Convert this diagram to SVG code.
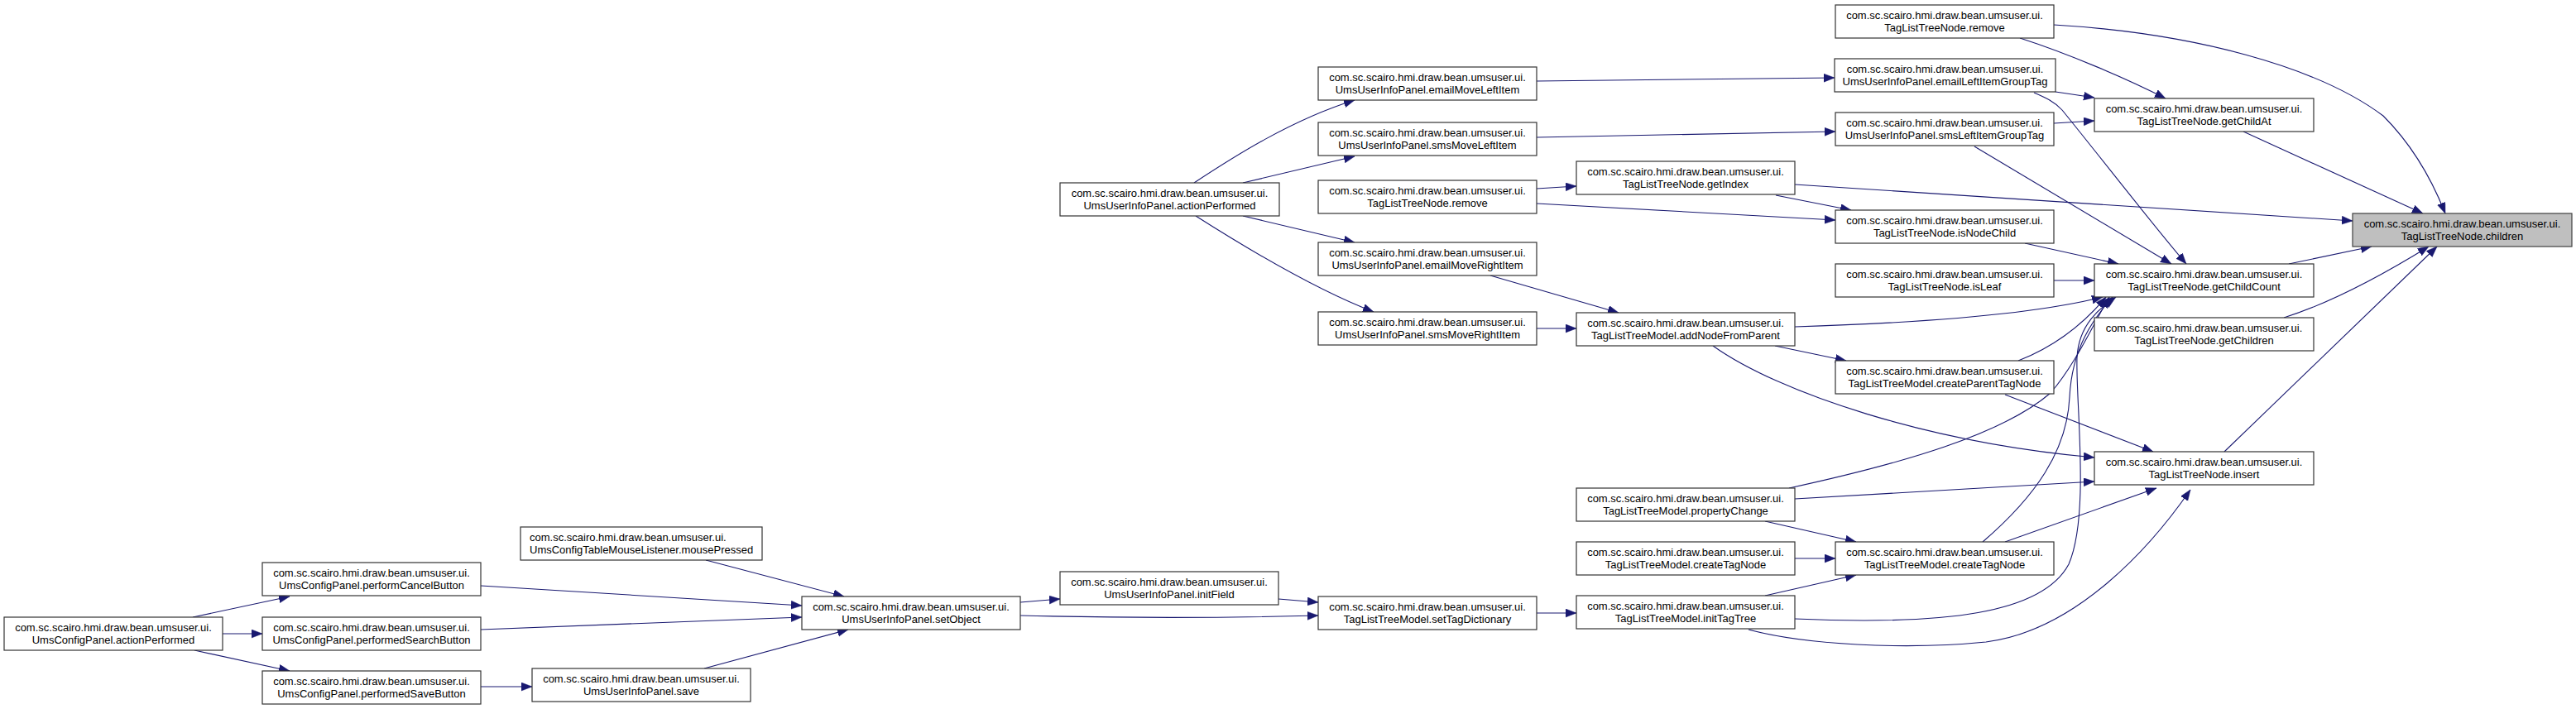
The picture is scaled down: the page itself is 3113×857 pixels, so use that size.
<svg xmlns="http://www.w3.org/2000/svg" width="3113" height="857" viewBox="0 0 3113 857">
<style>
.node rect{fill:#ffffff;stroke:#333333;stroke-width:1.2}
.node.root rect{fill:#bfbfbf;stroke:#404040}
.node text{font-family:"Liberation Sans",Arial,sans-serif;font-size:13px;fill:#000000;text-anchor:middle}
.node text.l{text-anchor:start}
.edges path{fill:none;stroke:#191970;stroke-width:1.1;marker-end:url(#arr)}
</style>
<defs>
<marker id="arr" markerUnits="userSpaceOnUse" markerWidth="14" markerHeight="11" refX="13" refY="5" orient="auto" viewBox="0 0 14 11">
<path d="M0,0 L13,5 L0,10 Z" fill="#191970" stroke="#191970" stroke-width="0.5"/>
</marker>
</defs>
<rect width="3113" height="857" fill="#ffffff"/>
<g class="edges" id="edges">
<path d="M233,746 L350,721"/>
<path d="M269,766 L317,766"/>
<path d="M235,786 L350,811"/>
<path d="M581,708 L969,732"/>
<path d="M581,761 L969,746"/>
<path d="M581,830 L643,830"/>
<path d="M853,677 L1020,721"/>
<path d="M851,808 L1025,761"/>
<path d="M1233,728 L1281,724"/>
<path d="M1233,744 C1350,747 1480,747 1593,744"/>
<path d="M1545,724 L1593,728"/>
<path d="M1857,741 L1905,741"/>
<path d="M1443,221 C1490,190 1560,145 1637,121"/>
<path d="M1502,221 L1637,189"/>
<path d="M1502,261 L1637,293"/>
<path d="M1445,261 C1500,296 1590,350 1660,377"/>
<path d="M1857,98 L2217,94"/>
<path d="M1857,166 L2218,159"/>
<path d="M1857,228 L1905,225"/>
<path d="M1857,246 L2218,266"/>
<path d="M1801,333 L1956,378"/>
<path d="M1857,397 L1905,397"/>
<path d="M2169,223 L2843,267"/>
<path d="M2146,236 L2237,254"/>
<path d="M2169,395 C2300,391 2450,382 2541,359"/>
<path d="M2145,418 L2231,436"/>
<path d="M2070,418 C2150,475 2330,535 2531,553"/>
<path d="M2439,436 C2480,420 2515,395 2545,359"/>
<path d="M2423,477 L2602,546"/>
<path d="M2162,590 C2300,560 2420,525 2478,475 C2508,440 2528,395 2549,359"/>
<path d="M2169,603 L2531,582"/>
<path d="M2133,630 L2243,655"/>
<path d="M2169,675 L2218,675"/>
<path d="M2133,720 L2243,695"/>
<path d="M2396,655 C2460,600 2498,545 2501,480 C2504,420 2530,385 2553,359"/>
<path d="M2423,655 L2606,590"/>
<path d="M2169,748 C2350,756 2468,742 2500,682 C2526,622 2508,485 2510,432 C2512,392 2538,372 2557,359"/>
<path d="M2113,761 C2180,779 2300,786 2400,776 C2510,762 2600,660 2647,592"/>
<path d="M2482,30 C2650,40 2800,80 2880,140 C2918,178 2940,220 2955,258"/>
<path d="M2441,46 C2500,65 2570,95 2617,119"/>
<path d="M2484,111 L2531,118"/>
<path d="M2458,112 C2472,118 2483,123 2492,133 C2540,192 2600,270 2642,319"/>
<path d="M2482,149 L2531,146"/>
<path d="M2386,177 L2624,319"/>
<path d="M2447,294 L2560,319"/>
<path d="M2482,339 L2531,339"/>
<path d="M2711,159 L2928,258"/>
<path d="M2766,319 L2866,298"/>
<path d="M2760,384 C2820,365 2880,332 2935,298"/>
<path d="M2688,546 L2945,298"/>
</g>
<g id="n_ucpActionPerformed" class="node"><rect x="5" y="746" width="264" height="40"/><text x="137" y="763">com.sc.scairo.hmi.draw.bean.umsuser.ui.</text><text x="137" y="777.5">UmsConfigPanel.actionPerformed</text></g>
<g id="n_performCancelButton" class="node"><rect x="317" y="680" width="264" height="40"/><text x="449" y="697">com.sc.scairo.hmi.draw.bean.umsuser.ui.</text><text x="449" y="711.5">UmsConfigPanel.performCancelButton</text></g>
<g id="n_performedSearchButton" class="node"><rect x="317" y="746" width="264" height="40"/><text x="449" y="763">com.sc.scairo.hmi.draw.bean.umsuser.ui.</text><text x="449" y="777.5">UmsConfigPanel.performedSearchButton</text></g>
<g id="n_performedSaveButton" class="node"><rect x="317" y="811" width="264" height="40"/><text x="449" y="828">com.sc.scairo.hmi.draw.bean.umsuser.ui.</text><text x="449" y="842.5">UmsConfigPanel.performedSaveButton</text></g>
<g id="n_mousePressed" class="node"><rect x="629" y="637" width="292" height="40"/><text class="l" x="640" y="654">com.sc.scairo.hmi.draw.bean.umsuser.ui.</text><text class="l" x="640" y="668.5">UmsConfigTableMouseListener.mousePressed</text></g>
<g id="n_save" class="node"><rect x="643" y="808" width="264" height="40"/><text x="775" y="825">com.sc.scairo.hmi.draw.bean.umsuser.ui.</text><text x="775" y="839.5">UmsUserInfoPanel.save</text></g>
<g id="n_setObject" class="node"><rect x="969" y="721" width="264" height="40"/><text x="1101" y="738">com.sc.scairo.hmi.draw.bean.umsuser.ui.</text><text x="1101" y="752.5">UmsUserInfoPanel.setObject</text></g>
<g id="n_uipActionPerformed" class="node"><rect x="1281" y="221" width="265" height="40"/><text x="1413.5" y="238">com.sc.scairo.hmi.draw.bean.umsuser.ui.</text><text x="1413.5" y="252.5">UmsUserInfoPanel.actionPerformed</text></g>
<g id="n_initField" class="node"><rect x="1281" y="691" width="264" height="40"/><text x="1413" y="708">com.sc.scairo.hmi.draw.bean.umsuser.ui.</text><text x="1413" y="722.5">UmsUserInfoPanel.initField</text></g>
<g id="n_emailMoveLeftItem" class="node"><rect x="1593" y="81" width="264" height="40"/><text x="1725" y="98">com.sc.scairo.hmi.draw.bean.umsuser.ui.</text><text x="1725" y="112.5">UmsUserInfoPanel.emailMoveLeftItem</text></g>
<g id="n_smsMoveLeftItem" class="node"><rect x="1593" y="148" width="264" height="40"/><text x="1725" y="165">com.sc.scairo.hmi.draw.bean.umsuser.ui.</text><text x="1725" y="179.5">UmsUserInfoPanel.smsMoveLeftItem</text></g>
<g id="n_remove2" class="node"><rect x="1593" y="218" width="264" height="40"/><text x="1725" y="235">com.sc.scairo.hmi.draw.bean.umsuser.ui.</text><text x="1725" y="249.5">TagListTreeNode.remove</text></g>
<g id="n_emailMoveRightItem" class="node"><rect x="1593" y="293" width="264" height="40"/><text x="1725" y="310">com.sc.scairo.hmi.draw.bean.umsuser.ui.</text><text x="1725" y="324.5">UmsUserInfoPanel.emailMoveRightItem</text></g>
<g id="n_smsMoveRightItem" class="node"><rect x="1593" y="377" width="264" height="40"/><text x="1725" y="394">com.sc.scairo.hmi.draw.bean.umsuser.ui.</text><text x="1725" y="408.5">UmsUserInfoPanel.smsMoveRightItem</text></g>
<g id="n_setTagDictionary" class="node"><rect x="1593" y="721" width="264" height="40"/><text x="1725" y="738">com.sc.scairo.hmi.draw.bean.umsuser.ui.</text><text x="1725" y="752.5">TagListTreeModel.setTagDictionary</text></g>
<g id="n_getIndex" class="node"><rect x="1905" y="195" width="264" height="40"/><text x="2037" y="212">com.sc.scairo.hmi.draw.bean.umsuser.ui.</text><text x="2037" y="226.5">TagListTreeNode.getIndex</text></g>
<g id="n_addNodeFromParent" class="node"><rect x="1905" y="378" width="264" height="40"/><text x="2037" y="395">com.sc.scairo.hmi.draw.bean.umsuser.ui.</text><text x="2037" y="409.5">TagListTreeModel.addNodeFromParent</text></g>
<g id="n_propertyChange" class="node"><rect x="1905" y="590" width="264" height="40"/><text x="2037" y="607">com.sc.scairo.hmi.draw.bean.umsuser.ui.</text><text x="2037" y="621.5">TagListTreeModel.propertyChange</text></g>
<g id="n_createTagNodeL" class="node"><rect x="1905" y="655" width="264" height="40"/><text x="2037" y="672">com.sc.scairo.hmi.draw.bean.umsuser.ui.</text><text x="2037" y="686.5">TagListTreeModel.createTagNode</text></g>
<g id="n_initTagTree" class="node"><rect x="1905" y="720" width="264" height="40"/><text x="2037" y="737">com.sc.scairo.hmi.draw.bean.umsuser.ui.</text><text x="2037" y="751.5">TagListTreeModel.initTagTree</text></g>
<g id="n_removeTop" class="node"><rect x="2218" y="6" width="264" height="40"/><text x="2350" y="23">com.sc.scairo.hmi.draw.bean.umsuser.ui.</text><text x="2350" y="37.5">TagListTreeNode.remove</text></g>
<g id="n_emailLeftItemGroupTag" class="node"><rect x="2217" y="71" width="267" height="40"/><text x="2350.5" y="88">com.sc.scairo.hmi.draw.bean.umsuser.ui.</text><text x="2350.5" y="102.5">UmsUserInfoPanel.emailLeftItemGroupTag</text></g>
<g id="n_smsLeftItemGroupTag" class="node"><rect x="2218" y="136" width="264" height="40"/><text x="2350" y="153">com.sc.scairo.hmi.draw.bean.umsuser.ui.</text><text x="2350" y="167.5">UmsUserInfoPanel.smsLeftItemGroupTag</text></g>
<g id="n_isNodeChild" class="node"><rect x="2218" y="254" width="264" height="40"/><text x="2350" y="271">com.sc.scairo.hmi.draw.bean.umsuser.ui.</text><text x="2350" y="285.5">TagListTreeNode.isNodeChild</text></g>
<g id="n_isLeaf" class="node"><rect x="2218" y="319" width="264" height="40"/><text x="2350" y="336">com.sc.scairo.hmi.draw.bean.umsuser.ui.</text><text x="2350" y="350.5">TagListTreeNode.isLeaf</text></g>
<g id="n_createParentTagNode" class="node"><rect x="2218" y="436" width="264" height="40"/><text x="2350" y="453">com.sc.scairo.hmi.draw.bean.umsuser.ui.</text><text x="2350" y="467.5">TagListTreeModel.createParentTagNode</text></g>
<g id="n_createTagNodeR" class="node"><rect x="2218" y="655" width="264" height="40"/><text x="2350" y="672">com.sc.scairo.hmi.draw.bean.umsuser.ui.</text><text x="2350" y="686.5">TagListTreeModel.createTagNode</text></g>
<g id="n_getChildAt" class="node"><rect x="2531" y="119" width="265" height="40"/><text x="2663.5" y="136">com.sc.scairo.hmi.draw.bean.umsuser.ui.</text><text x="2663.5" y="150.5">TagListTreeNode.getChildAt</text></g>
<g id="n_getChildCount" class="node"><rect x="2531" y="319" width="265" height="40"/><text x="2663.5" y="336">com.sc.scairo.hmi.draw.bean.umsuser.ui.</text><text x="2663.5" y="350.5">TagListTreeNode.getChildCount</text></g>
<g id="n_getChildren" class="node"><rect x="2531" y="384" width="265" height="40"/><text x="2663.5" y="401">com.sc.scairo.hmi.draw.bean.umsuser.ui.</text><text x="2663.5" y="415.5">TagListTreeNode.getChildren</text></g>
<g id="n_insert" class="node"><rect x="2531" y="546" width="265" height="40"/><text x="2663.5" y="563">com.sc.scairo.hmi.draw.bean.umsuser.ui.</text><text x="2663.5" y="577.5">TagListTreeNode.insert</text></g>
<g id="n_children" class="node root"><rect x="2843" y="258" width="265" height="40"/><text x="2975.5" y="275">com.sc.scairo.hmi.draw.bean.umsuser.ui.</text><text x="2975.5" y="289.5">TagListTreeNode.children</text></g>
</svg>
